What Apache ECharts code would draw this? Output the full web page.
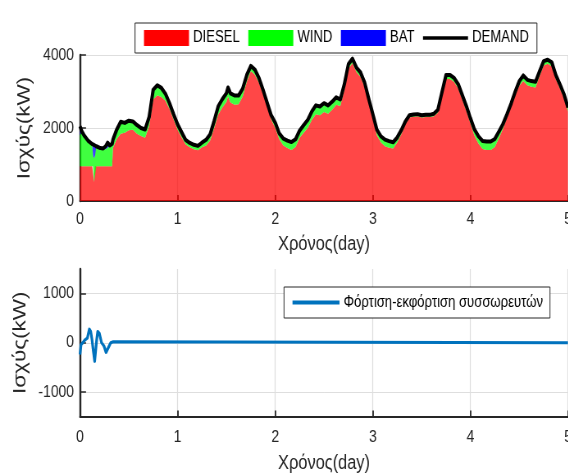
<!DOCTYPE html>
<html>
<head>
<meta charset="utf-8">
<script src="https://cdn.jsdelivr.net/npm/echarts@6/dist/echarts.min.js"></script>
<style>
  html, body { margin: 0; padding: 0; background: #ffffff; overflow: hidden; width: 568px; height: 475px; }
  /* The figure is laid out on a wider canvas and condensed horizontally */
  #chart { width: 693px; height: 475px; transform: scaleX(0.82); transform-origin: 0 0; }
</style>
</head>
<body>
<div id="chart"></div>
<script>
// Time stamps of the supply/demand samples, in hours from the start (5 days)
const hours = [
  0, 0.4, 1, 2, 3, 3.2, 3.45, 3.7, 3.85, 4, 5, 5.7, 6.3, 6.8, 7.3, 7.9, 8.1, 9, 10, 11, 12, 13, 14, 15, 16, 17, 18, 19, 20, 21, 22, 23,
  24, 25, 26, 27, 28, 29, 30, 31, 32, 33, 34, 35, 36, 36.4, 37, 38, 39, 40, 41, 42, 43, 44, 45, 46, 47,
  48, 49, 50, 51, 52, 53, 54, 55, 56, 57, 58, 59, 60, 61, 62, 63, 64, 65, 66, 67, 68, 69, 70, 71,
  72, 73, 74, 75, 76, 77, 78, 79, 80, 81, 82, 83, 84, 85, 86, 87, 88, 89, 90, 91, 92, 93, 94, 95,
  96, 97, 98, 99, 100, 101, 102, 103, 104, 105, 106, 107, 108, 109, 110, 111, 112, 113, 114, 115, 116, 117, 118, 119, 120
];

// Load demand (kW)
const demand = [
  2050, 1920, 1800, 1650, 1560, 1550, 1535, 1520, 1515, 1500, 1450, 1440, 1500, 1600, 1520, 1570, 1680, 1950, 2170, 2140, 2200, 2180, 2080, 2000, 1960, 2300, 3050, 3170, 3100, 2940, 2680, 2380,
  2100, 1880, 1670, 1590, 1540, 1510, 1600, 1675, 1830, 2200, 2600, 2790, 2950, 3110, 2950, 2890, 2890, 3080, 3450, 3700, 3600, 3370, 3050, 2700, 2350,
  2150, 1850, 1710, 1655, 1615, 1690, 1930, 2080, 2220, 2450, 2620, 2590, 2680, 2620, 2720, 2840, 2780, 3200, 3750, 3900, 3650, 3520, 3240, 2800,
  2380, 1950, 1770, 1680, 1640, 1610, 1740, 1940, 2180, 2350, 2370, 2380, 2350, 2360, 2360, 2390, 2500, 2980, 3450, 3450, 3370, 3200, 2900, 2600,
  2270, 1960, 1770, 1645, 1630, 1630, 1700, 1900, 2110, 2380, 2670, 2990, 3280, 3440, 3320, 3285, 3265, 3550, 3830, 3870, 3800, 3450, 3200, 2930, 2560
];

// Diesel generation (kW)
const diesel = [
  950, 950, 950, 950, 950, 950, 520, 950, 950, 950, 950, 950, 950, 950, 950, 950, 1450, 1690, 1840, 1870, 1940, 1950, 1840, 1780, 1730, 2050, 2780, 2900, 2850, 2750, 2530, 2240,
  1950, 1740, 1550, 1470, 1420, 1390, 1470, 1520, 1660, 2010, 2380, 2560, 2710, 2860, 2700, 2640, 2650, 2860, 3270, 3560, 3460, 3240, 2940, 2600, 2240,
  2010, 1690, 1520, 1450, 1400, 1480, 1730, 1870, 2000, 2220, 2380, 2350, 2440, 2390, 2500, 2640, 2600, 3050, 3620, 3780, 3530, 3400, 3120, 2690,
  2270, 1800, 1600, 1500, 1460, 1440, 1600, 1830, 2100, 2290, 2310, 2320, 2290, 2300, 2300, 2320, 2420, 2890, 3340, 3340, 3260, 3080, 2780, 2470,
  2130, 1790, 1570, 1425, 1400, 1400, 1480, 1720, 1980, 2290, 2580, 2890, 3160, 3290, 3170, 3130, 3110, 3420, 3710, 3760, 3690, 3340, 3090, 2820, 2450
];

// Wind generation (kW)
const wind = [
  850, 970, 850, 700, 610, 300, 650, 300, 565, 550, 500, 490, 470, 510, 570, 620, 230, 260, 330, 270, 260, 230, 240, 220, 230, 250, 270, 270, 250, 190, 150, 140,
  150, 140, 120, 120, 120, 120, 130, 155, 170, 190, 220, 230, 240, 250, 250, 250, 240, 220, 180, 140, 140, 130, 110, 100, 110,
  140, 160, 190, 205, 215, 210, 200, 210, 220, 230, 240, 240, 240, 230, 220, 200, 180, 150, 130, 120, 120, 120, 120, 110,
  110, 150, 170, 180, 180, 170, 140, 110, 80, 60, 60, 60, 60, 60, 60, 70, 80, 90, 110, 110, 110, 120, 120, 130,
  140, 170, 200, 220, 230, 230, 220, 180, 130, 90, 90, 100, 120, 150, 150, 155, 155, 130, 120, 110, 110, 110, 110, 110, 110
];

// Battery discharge into the load (kW)
const bat = [
  250, 0, 0, 0, 0, 300, 365, 270, 0, 0, 0, 0, 80, 140, 0, 0, 0, 0, 0, 0, 0, 0, 0, 0, 0, 0, 0, 0, 0, 0, 0, 0,
  0, 0, 0, 0, 0, 0, 0, 0, 0, 0, 0, 0, 0, 0, 0, 0, 0, 0, 0, 0, 0, 0, 0, 0, 0,
  0, 0, 0, 0, 0, 0, 0, 0, 0, 0, 0, 0, 0, 0, 0, 0, 0, 0, 0, 0, 0, 0, 0, 0,
  0, 0, 0, 0, 0, 0, 0, 0, 0, 0, 0, 0, 0, 0, 0, 0, 0, 0, 0, 0, 0, 0, 0, 0,
  0, 0, 0, 0, 0, 0, 0, 0, 0, 0, 0, 0, 0, 0, 0, 0, 0, 0, 0, 0, 0, 0, 0, 0, 0
];

// Battery charge (+) / discharge (-) power, kW
const batHours = [0, 0.25, 0.66, 1.23, 1.8, 2.3, 2.63, 2.95, 3.28, 3.6, 3.94, 4.1, 4.35, 4.76, 5.3, 5.9, 6.4, 6.97, 7.55, 8.2, 8.6, 120];
const batPower = [-240, -40, 0, 60, 94, 276, 229, 60, -175, -377, -340, 60, 229, 190, 0, -67, -195, -100, 0, 20, 0, 0];

const dayLabels = ['0', '1', '2', '3', '4', '5'];
const supplyNames = ['DIESEL', 'WIND', 'BAT'];
const demandName = 'DEMAND';
const batteryName = 'Φόρτιση-εκφόρτιση συσσωρευτών';
const yTitle = 'Ισχύς(kW)';
const xTitle = 'Χρόνος(day)';

// Horizontal condensation applied by the stylesheet; screen x = layout x * SX
const SX = 0.82;
const px = v => v / SX;

const ink = '#262626';
const gridGray = '#dedede';
const font = "'Liberation Sans', Arial, sans-serif";

// [value, hour] rows: the value comes first so stacking acts on the power dimension
const rows = (xs, ys) => xs.map((x, i) => [ys[i], x]);

function timeAxis(gridIndex, labelMargin, nameGap) {
  return {
    type: 'value', gridIndex, min: 0, max: 120, interval: 24,
    name: xTitle, nameLocation: 'middle', nameGap,
    nameTextStyle: { fontFamily: font, fontSize: 20, color: ink },
    axisLine: { show: true, onZero: false, lineStyle: { color: ink, width: 2 } },
    axisTick: { show: true, inside: true, length: 6, lineStyle: { color: ink, width: 1.8 } },
    axisLabel: { margin: labelMargin, fontFamily: font, fontSize: 17, color: ink,
                 formatter: v => dayLabels[Math.round(v / 24)] },
    splitLine: { show: true, lineStyle: { color: gridGray, width: 1.2 } }
  };
}

function powerAxis(gridIndex, opts) {
  return Object.assign({
    type: 'value', gridIndex,
    name: yTitle, nameLocation: 'middle', nameRotate: 90,
    nameTextStyle: { fontFamily: font, fontSize: 22.5, color: ink },
    axisLine: { show: true, onZero: false, lineStyle: { color: ink, width: 2.4 } },
    splitLine: { show: true, lineStyle: { color: gridGray, width: 1 } }
  }, opts);
}

const tickLabel = v => String(v);

const supplyColors = ['#ff0000', '#00ff00', '#0000ff'];
const supplyFills = ['rgba(255,0,0,0.72)', 'rgba(0,255,0,0.75)', 'rgba(0,0,255,0.75)'];
const supplyData = [diesel, wind, bat];

const series = supplyNames.map((name, k) => ({
  name, type: 'line', xAxisIndex: 0, yAxisIndex: 0, stack: 'supply',
  data: rows(hours, supplyData[k]), encode: { x: 1, y: 0 },
  symbol: 'none', color: supplyColors[k],
  lineStyle: { width: 0 },
  areaStyle: { color: supplyFills[k], opacity: 1 },
  z: 2
}));

series.push({
  name: demandName, type: 'line', xAxisIndex: 0, yAxisIndex: 0,
  data: rows(hours, demand), encode: { x: 1, y: 0 },
  symbol: 'none', color: '#000000',
  lineStyle: { width: 4, join: 'round' }, z: 5
});

series.push({
  name: batteryName, type: 'line', xAxisIndex: 1, yAxisIndex: 1,
  data: rows(batHours, batPower), encode: { x: 1, y: 0 },
  symbol: 'none', color: '#0072bd',
  lineStyle: { width: 3.2, join: 'round' }, z: 5
});

const lineIcon = 'path://M0,0H150V10H0Z';

const chart = echarts.init(document.getElementById('chart'));
chart.setOption({
  animation: false,
  backgroundColor: '#ffffff',
  grid: [
    { left: px(80), top: 55, width: px(488), height: 146, outerBoundsMode: 'none', containLabel: false },
    { left: px(80), top: 269, width: px(488), height: 147.5, outerBoundsMode: 'none', containLabel: false }
  ],
  legend: [
    {
      data: supplyNames.map(n => ({ name: n, icon: 'rect' })).concat([{ name: demandName, icon: lineIcon }]),
      left: px(135), top: 23, orient: 'horizontal',
      itemWidth: px(45), itemHeight: 16, itemGap: px(8.5), padding: [7, px(8), 7, px(9)],
      borderColor: ink, borderWidth: 1, backgroundColor: '#ffffff',
      selectedMode: false,
      textStyle: { fontFamily: font, fontSize: 16, color: '#000000' }
    },
    {
      data: [{ name: batteryName, icon: lineIcon }],
      left: px(284), top: 287,
      itemWidth: px(47), itemHeight: 16, padding: [7.5, px(7), 7.5, px(8.5)],
      borderColor: ink, borderWidth: 1, backgroundColor: '#ffffff',
      selectedMode: false,
      textStyle: { fontFamily: font, fontSize: 16, color: '#000000' }
    }
  ],
  xAxis: [timeAxis(0, 10, 33), timeAxis(1, 12, 37)],
  yAxis: [
    powerAxis(0, {
      min: 0, max: 4000, interval: 2000, nameGap: px(42),
      axisTick: { show: true, inside: true, length: px(6), lineStyle: { color: ink, width: 1.5 } },
      axisLabel: { margin: px(6), fontFamily: font, fontSize: 17, color: ink, formatter: tickLabel }
    }),
    powerAxis(1, {
      min: -1500, max: 1500, interval: 500, nameGap: px(46),
      axisTick: { show: true, inside: true, length: px(6), customValues: [-1000, 0, 1000],
                  lineStyle: { color: ink, width: 1.5 } },
      axisLabel: { margin: px(6), fontFamily: font, fontSize: 17, color: ink,
                   customValues: [-1000, 0, 1000], formatter: tickLabel }
    })
  ],
  series
});
</script>
</body>
</html>
